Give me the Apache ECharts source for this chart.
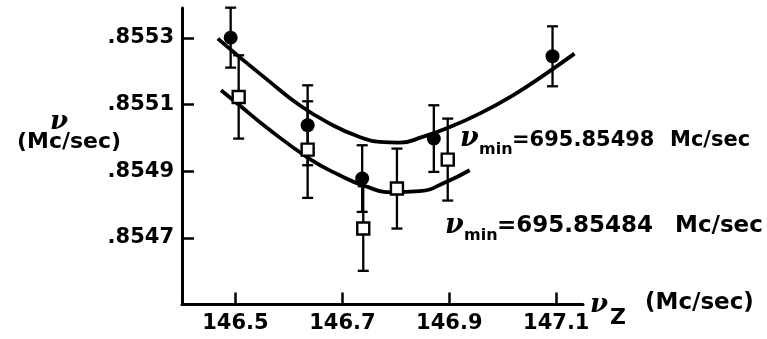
<!DOCTYPE html>
<html>
<head>
<meta charset="utf-8">
<script src="https://cdn.jsdelivr.net/npm/echarts@6/dist/echarts.min.js"></script>
<style>
  html, body { margin: 0; padding: 0; background: #fff; }
  #chart { width: 767px; height: 339px; }
</style>
</head>
<body>
<div id="chart"></div>
<script>
// tick labels
var xTicks = [146.5, 146.7, 146.9, 147.1];
var yTicks = [0.8547, 0.8549, 0.8551, 0.8553];

// filled circles (with error)
var dotX = [146.491, 146.635, 146.737, 146.871, 147.093];
var dotY = [0.855301, 0.855038, 0.854878, 0.854998, 0.855245];
var dotErr = [0.00009, 0.00012, 0.0001, 0.0001, 0.00009];

// open squares (with error)
var boxX = [146.506, 146.635, 146.739, 146.802, 146.897];
var boxY = [0.855123, 0.854965, 0.854728, 0.854848, 0.854935];
var boxErr = [0.000125, 0.000145, 0.000127, 0.00012, 0.000123];

// fitted curves
var upperX = [146.467, 146.5075, 146.557, 146.620, 146.682, 146.732, 146.769, 146.807, 146.850, 146.894, 146.9565, 147.019, 147.081, 147.134];
var upperY = [0.855298, 0.855243, 0.855178, 0.855098, 0.855038, 0.855003, 0.854988, 0.854986, 0.855003, 0.855028, 0.855073, 0.855128, 0.855193, 0.855253];
var lowerX = [146.473, 146.5075, 146.557, 146.638, 146.695, 146.738, 146.794, 146.844, 146.894, 146.938];
var lowerY = [0.855143, 0.855098, 0.855033, 0.854938, 0.854888, 0.854858, 0.854837, 0.854840, 0.854868, 0.854903];

var minUpper = '695.85498';
var minLower = '695.85484';

var font = 'DejaVu Sans';
var chart = echarts.init(document.getElementById('chart'));

function pairs(xs, ys) {
  return xs.map(function (x, i) { return [x, ys[i]]; });
}

function errorBars(xs, ys, errs) {
  return {
    type: 'custom',
    silent: true,
    z: 3,
    encode: { x: 0, y: [1, 2] },
    data: xs.map(function (x, i) { return [x, ys[i] - errs[i], ys[i] + errs[i]]; }),
    renderItem: function (params, api) {
      var lo = api.coord([api.value(0), api.value(1)]);
      var hi = api.coord([api.value(0), api.value(2)]);
      var w = 5.5;
      var st = { stroke: '#000', lineWidth: 2.3 };
      return {
        type: 'group',
        children: [
          { type: 'line', shape: { x1: lo[0], y1: lo[1], x2: hi[0], y2: hi[1] }, style: st },
          { type: 'line', shape: { x1: lo[0] - w, y1: lo[1], x2: lo[0] + w, y2: lo[1] }, style: st },
          { type: 'line', shape: { x1: hi[0] - w, y1: hi[1], x2: hi[0] + w, y2: hi[1] }, style: st }
        ]
      };
    }
  };
}

function curve(xs, ys) {
  return {
    type: 'line',
    data: pairs(xs, ys),
    showSymbol: false,
    smooth: 0.5,
    silent: true,
    z: 2,
    lineStyle: { color: '#000', width: 3.8 }
  };
}

function txt(x, y, text, f, align) {
  return {
    type: 'text',
    x: x,
    y: y,
    style: { text: text, font: f, fill: '#000', textAlign: align || 'left', textVerticalAlign: 'middle' }
  };
}

chart.setOption({
  animation: false,
  backgroundColor: '#fff',
  grid: { left: 182, top: 8, width: 401, height: 296.5 },
  xAxis: {
    type: 'value',
    min: 146.4,
    max: 147.15,
    splitLine: { show: false },
    axisLine: { onZero: false, lineStyle: { color: '#000', width: 3 } },
    axisTick: { inside: true, length: 12, customValues: xTicks, lineStyle: { color: '#000', width: 2.5 } },
    axisLabel: {
      customValues: xTicks,
      margin: 9,
      color: '#000',
      fontSize: 21,
      fontWeight: 'bold',
      fontFamily: font,
      formatter: function (v) { return v.toFixed(1); }
    }
  },
  yAxis: {
    type: 'value',
    min: 0.8545,
    max: 0.85539,
    splitLine: { show: false },
    axisLine: { onZero: false, lineStyle: { color: '#000', width: 3 } },
    axisTick: { inside: true, length: 12, customValues: yTicks, lineStyle: { color: '#000', width: 2.5 } },
    axisLabel: {
      customValues: yTicks,
      margin: 8,
      color: '#000',
      fontSize: 21,
      fontWeight: 'bold',
      fontFamily: font,
      formatter: function (v) { return v.toFixed(4).slice(1); }
    }
  },
  series: [
    curve(upperX, upperY),
    curve(lowerX, lowerY),
    errorBars(dotX, dotY, dotErr),
    errorBars(boxX, boxY, boxErr),
    {
      type: 'scatter',
      data: pairs(dotX, dotY),
      symbol: 'circle',
      symbolSize: 14,
      z: 4,
      itemStyle: { color: '#000', opacity: 1 }
    },
    {
      type: 'scatter',
      data: pairs(boxX, boxY),
      symbol: 'rect',
      symbolSize: 12,
      z: 4,
      itemStyle: { color: '#fff', borderColor: '#000', borderWidth: 2.4, opacity: 1 }
    }
  ],
  graphic: [
    // y axis name
    txt(59, 122, 'ν', 'italic bold 26px DejaVu Serif', 'center'),
    txt(69, 142, '(Mc/sec)', 'bold 22px ' + font, 'center'),
    // upper minimum
    txt(460, 139, 'ν', 'italic bold 27px DejaVu Serif'),
    txt(479, 150, 'min', 'bold 16px ' + font),
    txt(512, 141, '=' + minUpper, 'bold 21px ' + font),
    txt(670, 141, 'Mc/sec', 'bold 21px ' + font),
    // lower minimum
    txt(445, 226, 'ν', 'italic bold 27px DejaVu Serif'),
    txt(464, 236, 'min', 'bold 16px ' + font),
    txt(497, 226, '=' + minLower, 'bold 23px ' + font),
    txt(675, 226, 'Mc/sec', 'bold 23px ' + font),
    // x axis name
    txt(590, 305, 'ν', 'italic bold 26px DejaVu Serif'),
    txt(610, 318, 'Z', 'bold 22px ' + font),
    txt(645, 303, '(Mc/sec)', 'bold 23px ' + font)
  ]
});
</script>
</body>
</html>
